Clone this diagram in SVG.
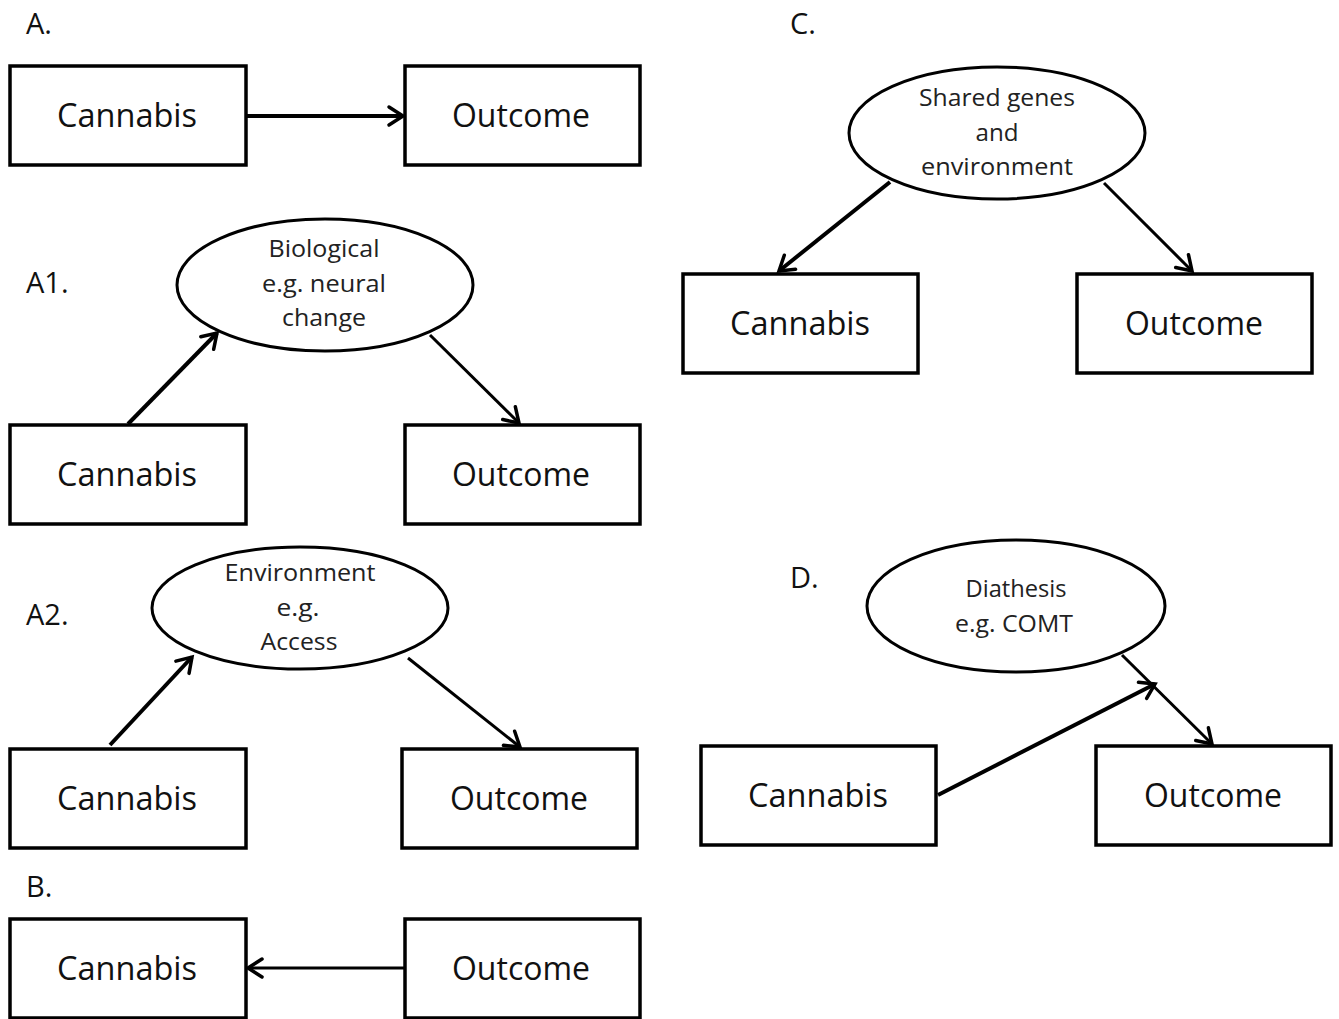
<svg xmlns="http://www.w3.org/2000/svg" width="1339" height="1019" viewBox="0 0 1339 1019">
<defs>
<style>
.box{fill:#fff;stroke:#000;stroke-width:3.5}
.ell{fill:#fff;stroke:#000;stroke-width:3}
.bt{font-family:"Open Sans","Noto Sans",sans-serif;font-size:32px;fill:#111;text-anchor:middle}
.et{font-family:"Open Sans","Noto Sans",sans-serif;font-size:23px;fill:#222;text-anchor:middle}
.lb{font-family:"Open Sans","Noto Sans",sans-serif;font-size:29px;fill:#111}
.thick{stroke:#000;stroke-width:4;fill:none;marker-end:url(#ah)}
.thin{stroke:#000;stroke-width:3;fill:none;marker-end:url(#ah)}
</style>
<marker id="ah" markerUnits="userSpaceOnUse" markerWidth="26" markerHeight="26" refX="19" refY="12" orient="auto">
<path d="M5,3 L19,12 L5,21" fill="none" stroke="#000" stroke-width="3.5" stroke-linecap="round" stroke-linejoin="miter"/>
</marker>
</defs>
<rect width="1339" height="1019" fill="#fff"/>

<g id="labels">
<text class="lb" x="26" y="34">A.</text>
<text class="lb" x="26" y="293">A1.</text>
<text class="lb" x="26" y="625">A2.</text>
<text class="lb" x="26" y="897">B.</text>
<text class="lb" x="790" y="34">C.</text>
<text class="lb" x="790" y="588">D.</text>
</g>

<g id="connectors">
<line class="thick" x1="246" y1="116" x2="403" y2="116"/>
<line class="thick" x1="128" y1="424" x2="217" y2="333"/>
<line class="thin" x1="430" y1="335" x2="519" y2="423"/>
<line class="thick" x1="110" y1="745" x2="192" y2="657"/>
<line class="thin" x1="408" y1="658" x2="520" y2="747"/>
<line class="thin" x1="405" y1="968" x2="248" y2="968"/>
<line class="thick" x1="890" y1="182" x2="779" y2="271"/>
<line class="thin" x1="1104" y1="183" x2="1192" y2="271"/>
<line class="thick" x1="938" y1="795" x2="1155" y2="684"/>
<line class="thin" x1="1122" y1="655" x2="1212" y2="744"/>
</g>

<g id="A-cannabis"><rect class="box" x="10" y="66" width="236" height="99"/><text class="bt" x="127" y="127" textLength="140" lengthAdjust="spacingAndGlyphs">Cannabis</text></g>
<g id="A-outcome"><rect class="box" x="405" y="66" width="235" height="99"/><text class="bt" x="521" y="127" textLength="138" lengthAdjust="spacingAndGlyphs">Outcome</text></g>

<g id="A1-mediator"><ellipse class="ell" cx="325" cy="285" rx="148" ry="66"/>
<text class="et" x="324" y="257" textLength="111" lengthAdjust="spacingAndGlyphs">Biological</text>
<text class="et" x="324" y="292" textLength="124" lengthAdjust="spacingAndGlyphs">e.g. neural</text>
<text class="et" x="324" y="326" textLength="84" lengthAdjust="spacingAndGlyphs">change</text></g>
<g id="A1-cannabis"><rect class="box" x="10" y="425" width="236" height="99"/><text class="bt" x="127" y="486" textLength="140" lengthAdjust="spacingAndGlyphs">Cannabis</text></g>
<g id="A1-outcome"><rect class="box" x="405" y="425" width="235" height="99"/><text class="bt" x="521" y="486" textLength="138" lengthAdjust="spacingAndGlyphs">Outcome</text></g>

<g id="A2-mediator"><ellipse class="ell" cx="300" cy="608" rx="148" ry="61"/>
<text class="et" x="300" y="581" textLength="151" lengthAdjust="spacingAndGlyphs">Environment</text>
<text class="et" x="298" y="616" textLength="43" lengthAdjust="spacingAndGlyphs">e.g.</text>
<text class="et" x="299" y="650" textLength="77" lengthAdjust="spacingAndGlyphs">Access</text></g>
<g id="A2-cannabis"><rect class="box" x="10" y="749" width="236" height="99"/><text class="bt" x="127" y="810" textLength="140" lengthAdjust="spacingAndGlyphs">Cannabis</text></g>
<g id="A2-outcome"><rect class="box" x="402" y="749" width="235" height="99"/><text class="bt" x="519" y="810" textLength="138" lengthAdjust="spacingAndGlyphs">Outcome</text></g>

<g id="B-cannabis"><rect class="box" x="10" y="919" width="236" height="99"/><text class="bt" x="127" y="980" textLength="140" lengthAdjust="spacingAndGlyphs">Cannabis</text></g>
<g id="B-outcome"><rect class="box" x="405" y="919" width="235" height="99"/><text class="bt" x="521" y="980" textLength="138" lengthAdjust="spacingAndGlyphs">Outcome</text></g>

<g id="C-confounder"><ellipse class="ell" cx="997" cy="133" rx="148" ry="66"/>
<text class="et" x="997" y="106" textLength="156" lengthAdjust="spacingAndGlyphs">Shared genes</text>
<text class="et" x="997" y="141" textLength="43" lengthAdjust="spacingAndGlyphs">and</text>
<text class="et" x="997" y="175" textLength="152" lengthAdjust="spacingAndGlyphs">environment</text></g>
<g id="C-cannabis"><rect class="box" x="683" y="274" width="235" height="99"/><text class="bt" x="800" y="335" textLength="140" lengthAdjust="spacingAndGlyphs">Cannabis</text></g>
<g id="C-outcome"><rect class="box" x="1077" y="274" width="235" height="99"/><text class="bt" x="1194" y="335" textLength="138" lengthAdjust="spacingAndGlyphs">Outcome</text></g>

<g id="D-diathesis"><ellipse class="ell" cx="1016" cy="606" rx="149" ry="66"/>
<text class="et" x="1016" y="597" textLength="101" lengthAdjust="spacingAndGlyphs">Diathesis</text>
<text class="et" x="1014" y="632" textLength="118" lengthAdjust="spacingAndGlyphs">e.g. COMT</text></g>
<g id="D-cannabis"><rect class="box" x="701" y="746" width="235" height="99"/><text class="bt" x="818" y="807" textLength="140" lengthAdjust="spacingAndGlyphs">Cannabis</text></g>
<g id="D-outcome"><rect class="box" x="1096" y="746" width="235" height="99"/><text class="bt" x="1213" y="807" textLength="138" lengthAdjust="spacingAndGlyphs">Outcome</text></g>
</svg>
